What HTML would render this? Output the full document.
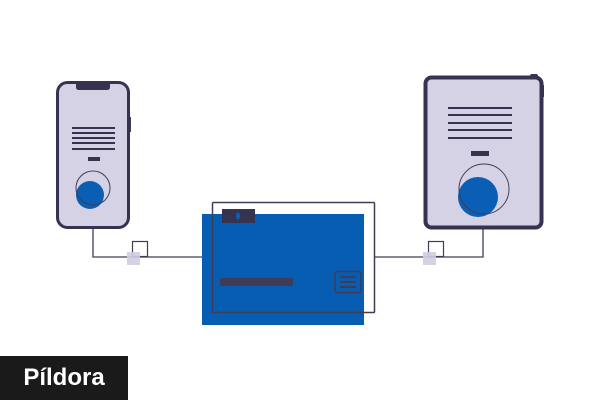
<!DOCTYPE html>
<html><head><meta charset="utf-8"><style>
html,body{margin:0;padding:0;background:#fff;width:600px;height:400px;overflow:hidden;position:relative}
.lbl{position:absolute;left:0;top:356px;width:128px;height:44px;background:#1a1a1a;color:#fff;font:bold 24px "Liberation Sans",sans-serif;line-height:44px;text-align:center}
</style></head><body>
<svg width="600" height="400" style="position:absolute;left:0;top:0">
<g fill="none" stroke="#3f3d56" stroke-width="1.3">
<polyline points="93,228 93,257 202,257"/>
<polyline points="374,257 483,257 483,229"/>
</g>
<!-- left phone -->
<rect x="128" y="117" width="3" height="15" fill="#3f3d56"/>
<rect x="57.5" y="82.5" width="71" height="145" rx="10" fill="#d6d2e5" stroke="#35334f" stroke-width="3"/>
<path d="M76 83 H110 V87 Q110 90 107 90 H79 Q76 90 76 87 Z" fill="#35334f"/>
<g fill="#35334f">
<rect x="72" y="127" width="43" height="2"/><rect x="72" y="132" width="43" height="2"/><rect x="72" y="137" width="43" height="2"/><rect x="72" y="142" width="43" height="2"/><rect x="72" y="148" width="43" height="2"/>
<rect x="88" y="157" width="12" height="4"/>
</g>
<circle cx="90" cy="195" r="14" fill="#0a5fb4"/>
<circle cx="93" cy="188" r="17" fill="none" stroke="#3f3d56" stroke-width="1"/>
<rect x="132.5" y="241.5" width="15" height="15" fill="none" stroke="#3f3d56" stroke-width="1.2"/>
<rect x="127" y="252" width="13" height="13" fill="#d0cde1" opacity="0.9"/>
<!-- center -->
<rect x="202" y="214" width="162" height="111" fill="#075db2"/>
<rect x="212.5" y="202.5" width="162" height="110" rx="1" fill="none" stroke="#3f3d56" stroke-width="1.5"/>
<rect x="222" y="209" width="33" height="14" fill="#35334f"/>
<ellipse cx="238" cy="216" rx="2" ry="3.5" fill="#0a5fb4"/>
<rect x="220" y="278" width="73" height="8" rx="1" fill="#3f3d56"/>
<rect x="335" y="271.5" width="26" height="21" rx="2" fill="none" stroke="#3f3d56" stroke-width="1.5"/>
<rect x="340" y="276" width="16" height="2" fill="#3f3d56"/><rect x="340" y="281" width="16" height="2" fill="#3f3d56"/><rect x="340" y="286" width="16" height="2" fill="#3f3d56"/>
<!-- tablet -->
<rect x="530" y="74" width="8" height="4" rx="2" fill="#35334f"/>
<rect x="541" y="85" width="3" height="12" fill="#35334f"/>
<rect x="425.5" y="77.5" width="116" height="150" rx="6" fill="#d6d2e5" stroke="#35334f" stroke-width="4"/>
<g fill="#35334f">
<rect x="448" y="107" width="64" height="2"/><rect x="448" y="114" width="64" height="2"/><rect x="448" y="122" width="64" height="2"/><rect x="448" y="129" width="64" height="2"/><rect x="448" y="137" width="64" height="2"/>
<rect x="471" y="151" width="18" height="5"/>
</g>
<circle cx="478" cy="197" r="20" fill="#0a5fb4"/>
<circle cx="484" cy="189" r="25" fill="none" stroke="#3f3d56" stroke-width="1"/>
<rect x="428.5" y="241.5" width="15" height="15" fill="none" stroke="#3f3d56" stroke-width="1.2"/>
<rect x="423" y="252" width="13" height="13" fill="#d0cde1" opacity="0.9"/>
</svg>
<div class="lbl">Píldora</div>
</body></html>
